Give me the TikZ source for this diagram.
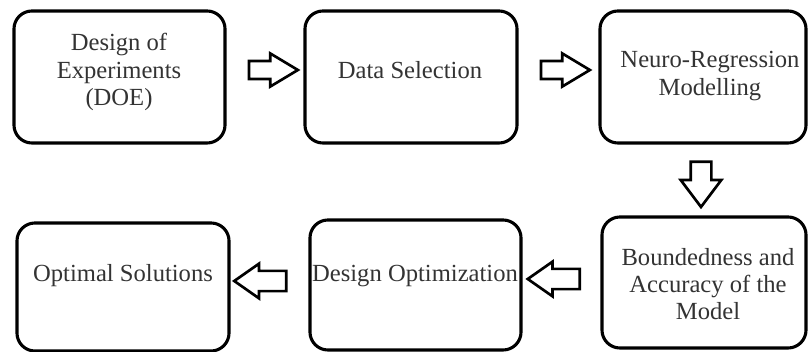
\documentclass[tikz,border=0pt]{standalone}
\usepackage{fontspec}
\setmainfont{Liberation Serif}
\usetikzlibrary{shapes.arrows}
\tikzset{
  stage/.style={draw, line width=2.2pt, rounded corners=0.45cm, inner sep=0pt},
  stagetext/.style={align=center, inner sep=0pt, text=black!80,
    font=\fontsize{17.5}{19.4}\selectfont},
  blockarrow/.style={single arrow, draw, line width=1.9pt, fill=white,
    inner sep=0.19cm, single arrow head extend=0.19cm,
    single arrow tip angle=62, minimum height=1.22cm},
}
\begin{document}
\begin{tikzpicture}[x=0.025cm,y=-0.025cm]
  \useasboundingbox (0,0) rectangle (808,352);
  % top row
  \node[stage, minimum width=5.275cm, minimum height=3.3cm] (doe) at (119.5,77) {};
  \node[stage, minimum width=5.3cm, minimum height=3.3cm] (datasel) at (411,77) {};
  \node[stage, minimum width=5.15cm, minimum height=3.3cm] (neuro) at (703,77) {};
  \node[stagetext] (doetext) at (119,72) {Design of\\Experiments\\(DOE)};
  \node[stagetext] (dataseltext) at (410,70) {Data Selection};
  \node[stagetext] (neurotext) at (710,76) {Neuro-Regression\\Modelling};
  % bottom row
  \node[stage, minimum width=5.3cm, minimum height=3.2cm] (optimal) at (123,287) {};
  \node[stage, minimum width=5.275cm, minimum height=3.25cm] (designopt) at (415.5,285) {};
  \node[stage, minimum width=5.1cm, minimum height=3.275cm] (bounded) at (704,282.5) {};
  \node[stagetext] (optimaltext) at (123,276) {Optimal Solutions};
  \node[stagetext] (designopttext) at (415,276) {Design Optimization};
  \node[stagetext] (boundedtext) at (708,284) {Boundedness and\\Accuracy of the\\Model};
  % arrows
  \node[blockarrow] (arrowa) at (266,70) {};
  \node[blockarrow] (arrowb) at (558,70) {};
  \node[blockarrow, shape border rotate=270, minimum height=1.13cm,
    inner sep=0.225cm, single arrow head extend=0.25cm, single arrow tip angle=74] (arrowc) at (701,177.5) {};
  \node[blockarrow, shape border rotate=180, minimum height=1.3cm,
    inner sep=0.22cm, single arrow head extend=0.18cm, single arrow tip angle=70] (arrowd) at (561,279) {};
  \node[blockarrow, shape border rotate=180, minimum height=1.3cm,
    inner sep=0.22cm, single arrow head extend=0.18cm, single arrow tip angle=70] (arrowe) at (267.5,281) {};
\end{tikzpicture}
\end{document}
